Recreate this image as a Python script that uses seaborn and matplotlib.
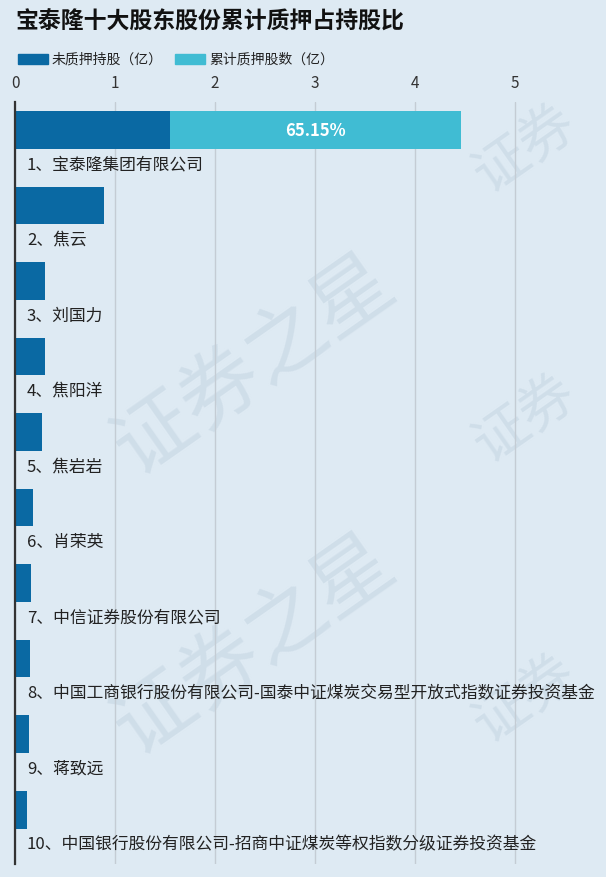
import matplotlib
matplotlib.use("Agg")
import matplotlib.pyplot as plt
import seaborn as sns
import pandas as pd
from matplotlib.patches import Rectangle

names = ["1、宝泰隆集团有限公司", "2、焦云", "3、刘国力", "4、焦阳洋", "5、焦岩岩", "6、肖荣英",
         "7、中信证券股份有限公司",
         "8、中国工商银行股份有限公司-国泰中证煤炭交易型开放式指数证券投资基金",
         "9、蒋致远",
         "10、中国银行股份有限公司-招商中证煤炭等权指数分级证券投资基金"]
unpledged = [1.554, 0.885, 0.30, 0.30, 0.27, 0.18, 0.16, 0.15, 0.14, 0.12]
pledged = [2.906, 0, 0, 0, 0, 0, 0, 0, 0, 0]
pct_labels = ["65.15%", "", "", "", "", "", "", "", "", ""]
ticks = [0, 1, 2, 3, 4, 5]

title = "宝泰隆十大股东股份累计质押占持股比"
legend_labels = ["未质押持股（亿）", "累计质押股数（亿）"]

sns.set_theme(style="white")
plt.rcParams['font.family'] = ['Noto Sans CJK SC', 'DejaVu Sans']

BG = "#deeaf3"
DARK = "#0a69a3"
LIGHT = "#40bcd3"

df = pd.DataFrame({"name": names, "unpledged": unpledged, "pledged": pledged})
df["total"] = df["unpledged"] + df["pledged"]

W, H = 606, 878
fig = plt.figure(figsize=(W / 100, H / 100), dpi=100)
fig.patch.set_facecolor(BG)

# watermark (behind everything)
wm_bg = fig.add_axes([0, 0, 1, 1], zorder=0)
wm_bg.set_axis_off()
wm_bg.set_xlim(0, W)
wm_bg.set_ylim(H, 0)
for (x, y, t, fs) in [(255, 365, "证券之星", 58), (255, 645, "证券之星", 58),
                      (525, 150, "证券", 40), (525, 420, "证券", 40), (525, 700, "证券", 40)]:
    wm_bg.text(x, y, t, ha="center", va="center", fontsize=fs,
               rotation=35, color="#c6d6e3", alpha=0.6)

ax = fig.add_axes([15 / W, (H - 865) / H, (W - 15) / W, (865 - 103) / H], zorder=1)
ax.patch.set_alpha(0)

sns.barplot(data=df, x="total", y="name", color=LIGHT, width=0.5, ax=ax,
            saturation=1, orient="h", linewidth=0, zorder=3)
sns.barplot(data=df, x="unpledged", y="name", color=DARK, width=0.5, ax=ax,
            saturation=1, orient="h", linewidth=0, zorder=4)

ax.set_xlim(0, 5.91)
ax.set_ylim(9.72, -0.37)
ax.set_xticks(ticks)
ax.set_xticklabels([str(t) for t in ticks])
ax.xaxis.tick_top()
ax.tick_params(axis="x", length=0, pad=8, labelsize=11, colors="#333333")
ax.set_yticks([])
ax.set_xlabel("")
ax.set_ylabel("")
ax.grid(axis="x", color="#c4ccd4", lw=1, zorder=0)
for s in ["top", "right", "bottom"]:
    ax.spines[s].set_visible(False)
ax.spines["left"].set_color("#333333")
ax.spines["left"].set_linewidth(1.6)
ax.spines["left"].set_zorder(6)

for i, (nm, u, p, lab) in enumerate(zip(names, unpledged, pledged, pct_labels)):
    ax.text(0.12, i + 0.45, nm, ha="left", va="center", fontsize=12.1, color="#222222", zorder=5)
    if lab:
        ax.text(u + p / 2, i, lab, ha="center", va="center", fontsize=12,
                fontweight="bold", color="white", zorder=5)

# title
fig.text(15 / W, 1 - 22 / H, title, ha="left", va="center", fontsize=16.5,
         fontweight="bold", color="#111111")

# legend
for x0, col, lab, tx in [(18, DARK, legend_labels[0], 52), (175, LIGHT, legend_labels[1], 209)]:
    fig.patches.append(Rectangle((x0 / W, 1 - 65 / H), 30 / W, 10 / H,
                                 transform=fig.transFigure, color=col, zorder=3))
    fig.text(tx / W, 1 - 60 / H, lab, ha="left", va="center", fontsize=10, color="#222222")

fig.savefig("out.png", dpi=100, facecolor=BG)
